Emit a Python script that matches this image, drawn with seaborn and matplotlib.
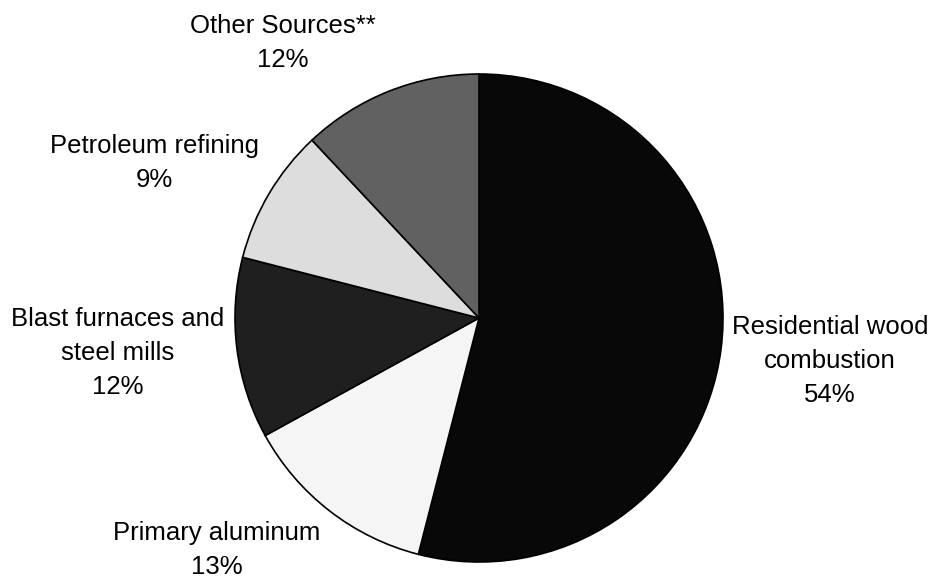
import matplotlib
matplotlib.use("Agg")
import matplotlib.pyplot as plt
import seaborn as sns

# ---- data ----
categories = ["Residential wood\ncombustion", "Primary aluminum",
              "Blast furnaces and\nsteel mills", "Petroleum refining",
              "Other Sources**"]
shares = [54, 13, 12, 9, 12]
colors = ["#080808", "#f5f5f5", "#1f1f1f", "#dddddd", "#616161"]

# label anchor positions in pixel space (x, y from top)
label_pos = [(830, 361), (217, 550), (118, 353), (154, 163), (283, 43)]

sns.set_theme(style="white")
plt.rcParams["font.family"] = ["Liberation Sans", "DejaVu Sans"]

W, H = 932, 579
fig = plt.figure(figsize=(W / 100, H / 100), dpi=100)
ax = fig.add_axes([0, 0, 1, 1])

cx, cy, r = 479, 318, 244
ax.pie(shares, colors=colors, startangle=90, counterclock=False,
       center=(cx, H - cy), radius=r,
       wedgeprops=dict(edgecolor="black", linewidth=1.2))
ax.set_xlim(0, W)
ax.set_ylim(0, H)
ax.set_aspect("equal")
ax.axis("off")

for cat, val, (x, y) in zip(categories, shares, label_pos):
    ax.text(x, H - y, f"{cat}\n{val}%", ha="center", va="center",
            fontsize=18.5, color="black", linespacing=1.5,
            multialignment="center")

fig.savefig("out.png", dpi=100, facecolor="white")
